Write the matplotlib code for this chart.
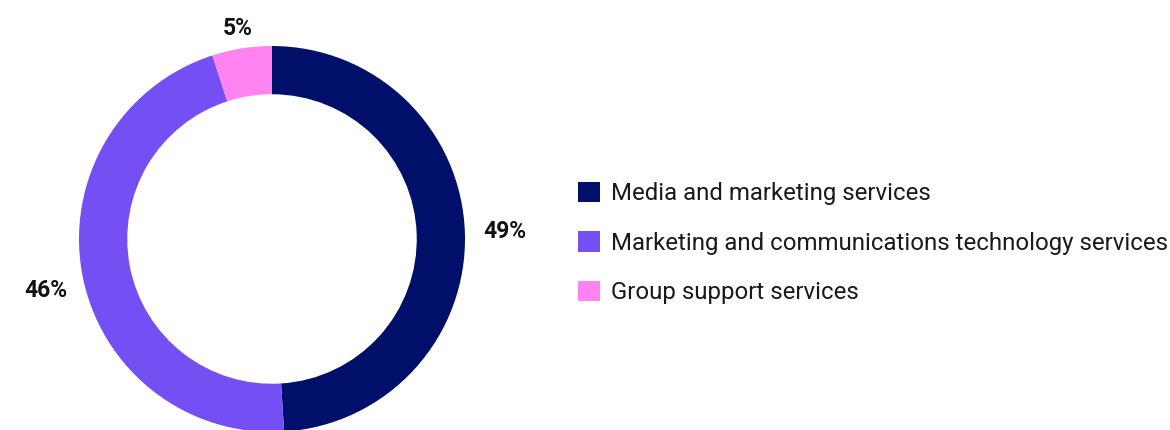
import matplotlib.pyplot as plt
from matplotlib.patches import Patch
import numpy as np

plt.rcParams['font.family'] = ['Roboto', 'DejaVu Sans']

categories = ["Media and marketing services",
              "Marketing and communications technology services",
              "Group support services"]
shares = [49, 46, 5]
pct_labels = ["49%", "46%", "5%"]
colors = ["#00106A", "#744FF3", "#FF84F2"]

W, H = 1170, 430
fig = plt.figure(figsize=(W / 100, H / 100), dpi=100)

# donut axes: centre (272, 239) px, outer radius 193 px
cx, cy, r = 272, 239, 193
ax = fig.add_axes([(cx - r) / W, (H - cy - r) / H, 2 * r / W, 2 * r / H])
wedges, _ = ax.pie(shares, colors=colors, startangle=90, counterclock=False,
                   radius=1.0, wedgeprops=dict(width=0.25, linewidth=0))
ax.set_xlim(-1, 1)
ax.set_ylim(-1, 1)
ax.set_aspect('equal')
ax.axis('off')
for w in wedges:
    w.set_clip_on(False)

# label placement: radial distance and a small nudge in points
label_dist = [1.2, 1.2, 1.12]
label_nudge = [(1, 0), (1, -6), (0, -2)]
for w, lab, d, (dx, dy) in zip(wedges, pct_labels, label_dist, label_nudge):
    ang = np.deg2rad((w.theta1 + w.theta2) / 2)
    ax.annotate(lab, (d * np.cos(ang), d * np.sin(ang)),
                xytext=(dx, dy), textcoords='offset points',
                ha='center', va='center', fontsize=16.5, fontweight='bold',
                color='#111111', annotation_clip=False)

handles = [Patch(facecolor=c, edgecolor='none') for c in colors]
leg = fig.legend(handles, categories, loc='center left',
                 bbox_to_anchor=(578 / W, (H - 243) / H), frameon=False,
                 fontsize=17.3, handlelength=0.92, handleheight=0.92,
                 handletextpad=0.46, labelspacing=1.08, borderaxespad=0,
                 borderpad=0)
for t in leg.get_texts():
    t.set_color('#1a1a1a')

fig.savefig("out.png", dpi=100)
